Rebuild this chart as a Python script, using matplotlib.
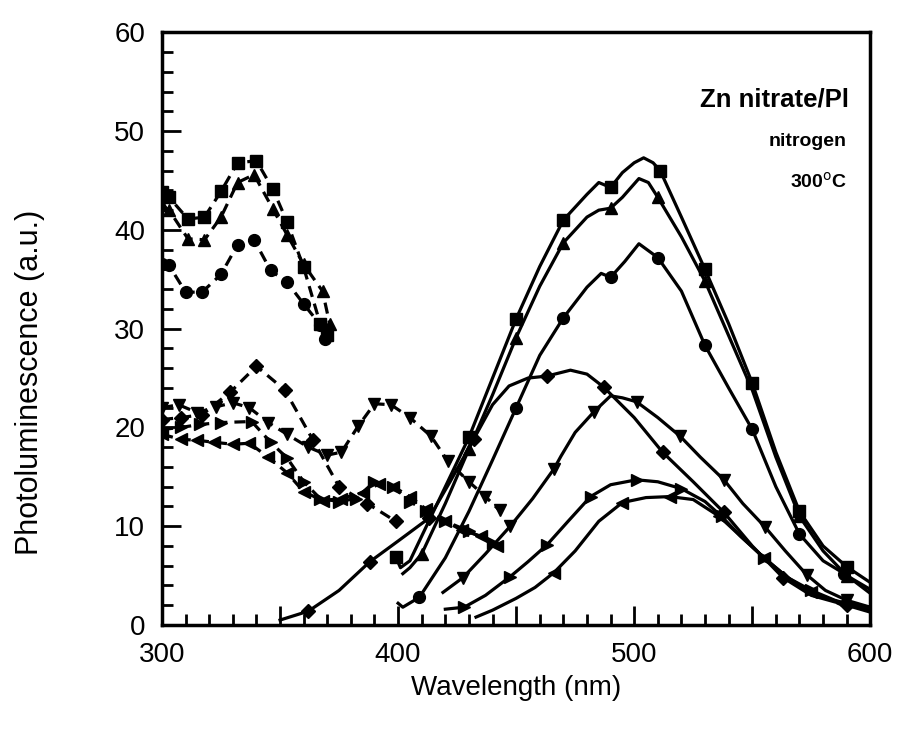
import numpy as np
import matplotlib.pyplot as plt
from matplotlib.ticker import MultipleLocator, FuncFormatter

plt.rcParams['font.family'] = ['Liberation Sans', 'DejaVu Sans']

# excitation spectra (dashed)
ex_sq_x = [300, 303, 311, 318, 325, 332, 340, 347, 353, 360, 367, 370]
ex_sq_y = [43.8, 43.3, 41.1, 41.3, 43.9, 46.8, 47.0, 44.1, 40.8, 36.2, 30.5, 29.4]
ex_tu_x = [300, 303, 311, 318, 325, 332, 339, 347, 353, 360, 368, 371]
ex_tu_y = [42.5, 42.0, 39.1, 39.0, 41.3, 44.8, 45.6, 42.1, 39.5, 36.5, 33.8, 30.5]
ex_ci_x = [300, 303, 310, 317, 325, 332, 339, 346, 353, 360, 367, 369]
ex_ci_y = [36.5, 36.4, 33.7, 33.7, 35.5, 38.5, 39.0, 35.9, 34.7, 32.5, 30.4, 29.0]
ex_di_x = [300, 308, 317, 329, 340, 352, 364, 375, 387, 399]
ex_di_y = [20.8, 21.0, 21.3, 23.6, 26.2, 23.8, 18.7, 14.0, 12.3, 10.5]
ex_td_x = [300, 307, 315, 323, 330, 337, 345, 353, 362, 370, 376, 383, 390, 397, 405, 414, 421, 430, 437, 443]
ex_td_y = [22.0, 22.3, 21.5, 22.1, 22.5, 22.0, 20.5, 19.3, 18.0, 17.2, 17.5, 20.1, 22.4, 22.3, 21.0, 19.1, 16.6, 14.5, 13.0, 11.6]
ex_tr_x = [300, 308, 316, 325, 338, 346, 353, 360, 367, 375, 382, 390, 398, 405, 412, 420, 430, 440]
ex_tr_y = [19.8, 20.0, 20.3, 20.5, 20.6, 18.5, 16.9, 14.5, 12.8, 12.5, 12.8, 14.5, 14.0, 12.5, 11.5, 10.5, 9.5, 8.3]
ex_tl_x = [300, 308, 315, 322, 330, 337, 345, 353, 360, 368, 376, 385, 392, 398, 405, 412, 420, 427, 435, 442]
ex_tl_y = [19.3, 18.8, 18.7, 18.5, 18.3, 18.4, 17.0, 15.4, 13.5, 12.6, 12.8, 13.4, 14.3, 14.0, 13.0, 11.7, 10.5, 9.6, 9.0, 8.0]

# emission spectra (solid), *_mk = wavelengths carrying a symbol
em_sq_x = [399, 401, 405, 410, 420, 430, 440, 450, 460, 470, 480, 485, 490, 495, 500, 504, 508, 511, 520, 530, 540, 550, 560, 570, 580, 590, 600]
em_sq_y = [6.9, 5.8, 6.5, 9.0, 14.0, 19.0, 25.0, 31.0, 36.3, 41.0, 43.6, 44.8, 44.3, 45.8, 46.8, 47.3, 46.8, 46.0, 41.3, 36.0, 30.5, 24.5, 17.5, 11.5, 8.0, 5.9, 4.3]
em_sq_mk = [399, 430, 450, 470, 490, 511, 530, 550, 570, 590]
em_tu_x = [402, 405, 410, 420, 430, 440, 450, 460, 470, 480, 485, 490, 495, 502, 506, 510, 520, 530, 540, 550, 560, 570, 580, 590, 600]
em_tu_y = [5.2, 5.8, 7.2, 12.3, 17.8, 23.3, 29.1, 34.3, 38.7, 41.3, 42.0, 42.2, 43.3, 45.2, 44.8, 43.3, 39.3, 34.8, 29.3, 23.8, 17.0, 11.0, 7.5, 5.0, 3.6]
em_tu_mk = [410, 430, 450, 470, 490, 510, 530, 570, 590]
em_ci_x = [400, 402, 409, 420, 430, 440, 450, 460, 470, 480, 486, 490, 496, 502, 510, 520, 530, 540, 550, 560, 570, 580, 589, 600]
em_ci_y = [2.2, 1.8, 2.8, 6.8, 11.5, 16.7, 22.0, 27.3, 31.1, 34.2, 35.6, 35.2, 36.8, 38.6, 37.2, 33.8, 28.3, 24.0, 19.8, 14.0, 9.2, 6.5, 5.2, 3.2]
em_ci_mk = [409, 450, 470, 490, 510, 530, 550, 570, 589]
em_di_x = [350, 362, 375, 388, 400, 413, 422, 432, 440, 447, 455, 463, 473, 480, 487, 500, 512, 525, 538, 550, 563, 575, 590, 600]
em_di_y = [0.5, 1.4, 3.5, 6.4, 8.5, 10.8, 14.5, 18.8, 22.3, 24.2, 25.0, 25.2, 25.8, 25.4, 24.1, 21.0, 17.5, 14.5, 11.4, 8.0, 4.8, 3.0, 2.0, 1.3]
em_di_mk = [362, 388, 413, 432, 463, 487, 512, 538, 563, 590]
em_td_x = [419, 427.5, 437, 447.5, 457, 466, 469, 475, 483, 490, 495, 501, 510, 519.5, 528, 538, 546, 555.5, 564, 573, 581, 590, 600]
em_td_y = [3.3, 4.8, 7.2, 10.0, 12.8, 15.8, 17.1, 19.5, 21.6, 23.2, 23.0, 22.6, 21.0, 19.1, 17.0, 14.7, 12.3, 9.9, 7.5, 5.1, 3.5, 2.5, 1.8]
em_td_mk = [427.5, 447.5, 466, 483, 501, 519.5, 538, 555.5, 573, 590]
em_tr_x = [420, 428, 437, 447.5, 455, 463, 472, 481.5, 490, 501, 510, 520, 530, 537, 545, 555, 565, 575, 585, 600]
em_tr_y = [1.6, 1.8, 3.0, 4.9, 6.4, 8.1, 10.5, 13.0, 14.2, 14.7, 14.5, 13.8, 12.5, 11.0, 9.0, 6.8, 4.8, 3.5, 2.5, 1.5]
em_tr_mk = [428, 447.5, 463, 481.5, 501, 520, 537, 555, 575]
em_tl_x = [433, 440, 450, 458, 466, 475, 485, 495, 505, 515, 525, 536, 545, 555, 565, 575, 588, 600]
em_tl_y = [0.8, 1.5, 2.7, 3.8, 5.3, 7.5, 10.5, 12.4, 12.9, 13.0, 12.7, 11.0, 9.0, 6.8, 4.8, 3.3, 2.2, 1.8]
em_tl_mk = [437, 466, 495, 515, 536, 555, 575, 588]

excitation = [
    (ex_sq_x, ex_sq_y, 's'), (ex_tu_x, ex_tu_y, '^'), (ex_ci_x, ex_ci_y, 'o'),
    (ex_di_x, ex_di_y, 'D'), (ex_td_x, ex_td_y, 'v'), (ex_tr_x, ex_tr_y, '>'),
    (ex_tl_x, ex_tl_y, '<'),
]
emission = [
    (em_sq_x, em_sq_y, em_sq_mk, 's'), (em_tu_x, em_tu_y, em_tu_mk, '^'),
    (em_ci_x, em_ci_y, em_ci_mk, 'o'), (em_di_x, em_di_y, em_di_mk, 'D'),
    (em_td_x, em_td_y, em_td_mk, 'v'), (em_tr_x, em_tr_y, em_tr_mk, '>'),
    (em_tl_x, em_tl_y, em_tl_mk, '<'),
]

fig = plt.figure(figsize=(9, 7.53), dpi=100)
ax = fig.add_axes([0.18, 0.17, 0.787, 0.787])

for x, y, m in excitation:
    ax.plot(x, y, color='black', lw=2.3, ls=(0, (3.5, 2.2)), marker=m,
            ms=8.5 if m != 'D' else 7.5, mfc='black', mec='black')

for x, y, mk, m in emission:
    idx = list(np.where(np.isin(x, mk))[0])
    ax.plot(x, y, color='black', lw=2.3, marker=m, markevery=idx,
            ms=8.5 if m != 'D' else 7.5, mfc='black', mec='black')

ax.set_xlim(300, 600)
ax.set_ylim(0, 60)
# long ticks every 50 nm, labels only at the hundreds
ax.xaxis.set_major_locator(MultipleLocator(50))
ax.xaxis.set_major_formatter(FuncFormatter(lambda v, p: '%d' % v if v % 100 == 0 else ''))
ax.xaxis.set_minor_locator(MultipleLocator(10))
ax.yaxis.set_major_locator(MultipleLocator(10))
ax.yaxis.set_minor_locator(MultipleLocator(2))
ax.tick_params(which='both', direction='in', width=2, labelsize=20, top=False, right=False)
ax.tick_params(which='major', length=14)
ax.tick_params(axis='x', which='major', pad=12)
ax.tick_params(axis='y', which='major', pad=12)
ax.tick_params(which='minor', length=8)
for s in ax.spines.values():
    s.set_linewidth(2.5)

ax.set_xlabel('Wavelength (nm)', fontsize=20)
ax.set_ylabel('Photoluminescence (a.u.)', fontsize=22)
ax.xaxis.set_label_coords(0.5, -0.085)
ax.yaxis.set_label_coords(-0.165, 0.41)

ax.text(591, 53.2, 'Zn nitrate/Pl', fontsize=18.5, fontweight='bold', ha='right', va='center')
ax.text(590, 49.0, 'nitrogen', fontsize=14, fontweight='bold', ha='right', va='center')
ax.text(590, 44.9, '300$^{\\mathrm{o}}$C', fontsize=14, fontweight='bold', ha='right', va='center')

fig.savefig('out.png', dpi=100)
